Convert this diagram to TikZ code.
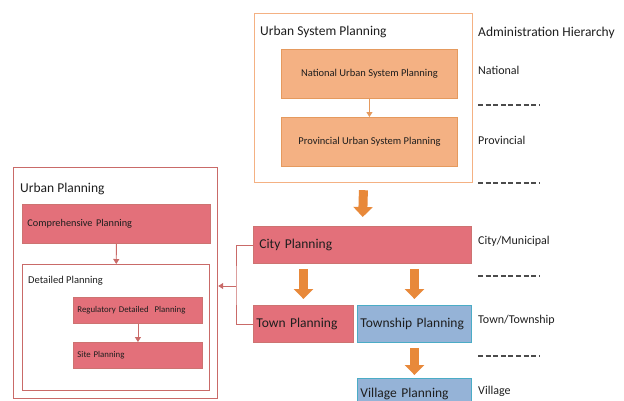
\documentclass[tikz,border=0pt]{standalone}
\usepackage{fontspec}
\setmainfont{Carlito}
\usetikzlibrary{arrows.meta}

\definecolor{sysfill}{HTML}{F4B183}
\definecolor{sysline}{HTML}{E59A5E}
\definecolor{planfill}{HTML}{E3707A}
\definecolor{planline}{HTML}{C0504D}
\definecolor{townfill}{HTML}{95B3D7}
\definecolor{townline}{HTML}{4BACC6}
\definecolor{flow}{HTML}{E8893A}
\definecolor{ink}{HTML}{1E1E1E}

\tikzset{
	box/.style={
		draw,
		line width=0.9pt,
		inner sep=0pt,
		anchor=north west,
		text=ink
	},
	frame/.style={
		draw,
		fill=white,
		line width=1.2pt,
		inner sep=0pt,
		anchor=north west
	},
	title/.style={
		anchor=west,
		inner sep=0pt,
		text=ink
	},
	bigflow/.style={
		line width=9pt,
		color=flow,
		-{Triangle[width=19pt,length=10pt]}
	},
	smallflow/.style={
		line width=0.9pt,
		-{Triangle[width=6pt,length=5pt]}
	}
}

\begin{document}
\begin{tikzpicture}[x=1pt,y=-1pt]
	\useasboundingbox (0,0) rectangle (624,400);

	% Urban system planning
	\node[
		frame,
		draw=sysfill,
		minimum width=218,
		minimum height=169
	] (usp) at (254,13) {};
	\node[
		title,
		font=\fontsize{13.5}{15}\selectfont
	] (usptitle) at (260,32) {Urban System Planning};
	\node[
		box,
		draw=sysline,
		fill=sysfill,
		minimum width=176,
		minimum height=49,
		font=\fontsize{10.5}{12}\selectfont
	] (national) at (281,49) {National Urban System Planning};
	\node[
		box,
		draw=sysline,
		fill=sysfill,
		minimum width=176,
		minimum height=49,
		font=\fontsize{10.5}{12}\selectfont
	] (provincial) at (281,117) {Provincial Urban System Planning};
	\draw[
		smallflow,
		color=sysline
	] (national) -- (provincial);

	% City, town and township
	\node[
		box,
		draw=planline!80,
		fill=planfill,
		minimum width=218,
		minimum height=37,
		text width=206,
		align=left,
		inner xsep=6pt,
		font=\fontsize{13.5}{15}\selectfont
	] (city) at (253,226) {City Planning};
	\node[
		box,
		draw=planline!80,
		fill=planfill,
		minimum width=100,
		minimum height=37,
		text width=94,
		align=left,
		inner xsep=3pt,
		font=\fontsize{13.5}{15}\selectfont
	] (town) at (253,305) {Town Planning};
	\node[
		box,
		draw=townline,
		fill=townfill,
		minimum width=114,
		minimum height=37,
		text width=108,
		align=left,
		inner xsep=3pt,
		font=\fontsize{13.5}{15}\selectfont
	] (township) at (357,305) {Township Planning};
	\node[
		box,
		draw=townline,
		fill=townfill,
		minimum width=114,
		minimum height=32,
		text width=108,
		align=left,
		inner xsep=3pt,
		font=\fontsize{13.5}{15}\selectfont
	] (village) at (357,378) {Village Planning};

	% Big arrows down the hierarchy
	\draw[
		bigflow,
		shorten <=7pt,
		shorten >=9pt
	] (usp.south) -- (city.north);
	\draw[
		bigflow,
		shorten <=5pt,
		shorten >=6pt
	] (city.south -| town.north) -- (town.north);
	\draw[
		bigflow,
		shorten <=5pt,
		shorten >=6pt
	] (city.south -| township.north) -- (township.north);
	\draw[
		bigflow,
		shorten <=5pt,
		shorten >=3pt
	] (township.south) -- (village.north);

	% Urban planning
	\node[
		frame,
		draw=planline!85,
		minimum width=204,
		minimum height=231
	] (up) at (13,167) {};
	\node[
		title,
		font=\fontsize{13.5}{15}\selectfont
	] (uptitle) at (20,189) {Urban Planning};
	\node[
		box,
		draw=planline!80,
		fill=planfill,
		minimum width=188,
		minimum height=39,
		text width=178,
		align=left,
		inner xsep=5pt,
		font=\fontsize{10.3}{12}\selectfont
	] (compre) at (22,204) {Comprehensive Planning};
	\node[
		frame,
		draw=planline!85,
		line width=0.9pt,
		minimum width=187,
		minimum height=126
	] (detail) at (22,264) {};
	\node[
		title,
		font=\fontsize{10.5}{12}\selectfont
	] (detailtitle) at (28,281) {Detailed Planning};
	\node[
		box,
		draw=planline!80,
		fill=planfill,
		minimum width=129,
		minimum height=26,
		text width=121,
		align=left,
		inner xsep=4pt,
		font=\fontsize{8.8}{10}\selectfont
	] (regul) at (73,297) {Regulatory Detailed\ \ Planning};
	\node[
		box,
		draw=planline!80,
		fill=planfill,
		minimum width=129,
		minimum height=26,
		text width=121,
		align=left,
		inner xsep=4pt,
		font=\fontsize{8.8}{10}\selectfont
	] (site) at (73,342) {Site Planning};
	\draw[
		smallflow,
		color=planline!85
	] (compre) -- (detail);
	\draw[
		smallflow,
		color=planline!85
	] (regul) -- (site);

	% City and town feed urban planning
	\coordinate (jn) at (236,286);
	\draw[
		line width=0.9pt,
		color=planline!85
	] (city.west) -| (jn) |- (town.west);
	\draw[
		smallflow,
		color=planline!85
	] (jn) -- (jn -| up.east);

	% Administration hierarchy
	\node[
		title,
		font=\fontsize{13.5}{15}\selectfont
	] (hier) at (478,33) {Administration Hierarchy};
	\node[
		title,
		font=\fontsize{12}{14}\selectfont
	] (lvnat) at (478,70) {National};
	\node[
		title,
		font=\fontsize{12}{14}\selectfont
	] (lvprov) at (478,140) {Provincial};
	\node[
		title,
		font=\fontsize{12}{14}\selectfont
	] (lvcity) at (478,241) {City/Municipal};
	\node[
		title,
		font=\fontsize{12}{14}\selectfont
	] (lvtown) at (478,320) {Town/Township};
	\node[
		title,
		font=\fontsize{12}{14}\selectfont
	] (lvvil) at (478,391) {Village};
	\foreach \y in {105,183,276,356}
		\draw[
			line width=1.1pt,
			color=ink!80,
			dash pattern=on 5pt off 2.6pt
		] (478,\y) -- (539,\y);

\end{tikzpicture}
\end{document}
